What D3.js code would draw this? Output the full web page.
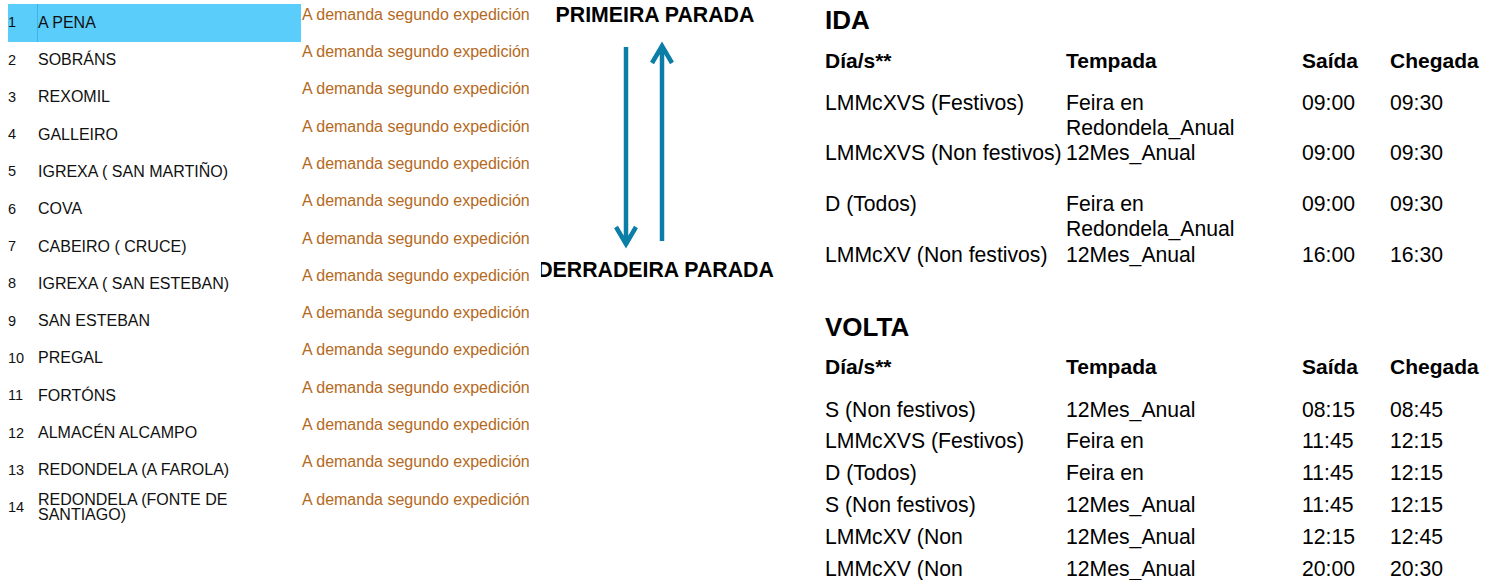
<!DOCTYPE html>
<html>
<head>
<meta charset="utf-8">
<script src="https://cdn.jsdelivr.net/npm/d3@7/dist/d3.min.js"></script>
<style>
  html, body { margin: 0; padding: 0; background: #fff; }
  svg { display: block; font-family: "Liberation Sans", Arial, sans-serif; }
</style>
</head>
<body>
<svg id="chart" width="1498" height="580"></svg>
<script>
// ---------- DATA ----------
const stops = ["A PENA", "SOBRÁNS", "REXOMIL", "GALLEIRO", "IGREXA ( SAN MARTIÑO)", "COVA",
  "CABEIRO ( CRUCE)", "IGREXA ( SAN ESTEBAN)", "SAN ESTEBAN", "PREGAL", "FORTÓNS",
  "ALMACÉN ALCAMPO", "REDONDELA (A FAROLA)", "REDONDELA (FONTE DE SANTIAGO)"];
const stopTimes = stops.map(() => "A demanda segundo expedición");
const firstStopLabel = "PRIMEIRA PARADA";
const lastStopLabel = "DERRADEIRA PARADA";

const tableHeaders = ["Día/s**", "Tempada", "Saída", "Chegada"];

const idaTitle = "IDA";
const idaDias = ["LMMcXVS (Festivos)", "LMMcXVS (Non festivos)", "D (Todos)", "LMMcXV (Non festivos)"];
const idaTempada = [["Feira en", "Redondela_Anual"], ["12Mes_Anual"], ["Feira en", "Redondela_Anual"], ["12Mes_Anual"]];
const idaSaida = ["09:00", "09:00", "09:00", "16:00"];
const idaChegada = ["09:30", "09:30", "09:30", "16:30"];

const voltaTitle = "VOLTA";
const voltaDias = ["S (Non festivos)", "LMMcXVS (Festivos)", "D (Todos)", "S (Non festivos)", "LMMcXV (Non", "LMMcXV (Non"];
const voltaTempada = [["12Mes_Anual"], ["Feira en"], ["Feira en"], ["12Mes_Anual"], ["12Mes_Anual"], ["12Mes_Anual"]];
const voltaSaida = ["08:15", "11:45", "11:45", "11:45", "12:15", "20:00"];
const voltaChegada = ["08:45", "12:15", "12:15", "12:15", "12:45", "20:30"];

// ---------- DRAW ----------
const svg = d3.select("#chart");

// Stop list
const idx = d3.range(stops.length);
const yStop = d3.scalePoint().domain(idx).range([22, 22 + 13 * 37.3]);
const yTime = d3.scalePoint().domain(idx).range([14, 14 + 13 * 37.3]);

// highlight of first row
svg.append("rect").attr("x", 8).attr("y", 4).attr("width", 293).attr("height", 38)
  .attr("fill", "#5bcdfa");
svg.append("line").attr("x1", 37.5).attr("x2", 37.5).attr("y1", 4).attr("y2", 42)
  .attr("stroke", "#34b6ea").attr("stroke-width", 1);

const rows = svg.append("g").selectAll("g").data(idx).join("g");
rows.append("text")
  .attr("x", 8).attr("y", d => yStop(d)).attr("dy", "0.36em")
  .attr("font-size", 14.5).attr("fill", "#111")
  .text(d => d + 1);

rows.append("text")
  .attr("x", 38).attr("y", d => yStop(d))
  .attr("font-size", 16).attr("fill", "#111")
  .each(function(d) {
    const t = d3.select(this);
    const words = stops[d].split(" ");
    const maxW = 235;
    let lines = [], cur = "";
    const probe = t.append("tspan");
    words.forEach(w => {
      const test = cur ? cur + " " + w : w;
      probe.text(test);
      if (probe.node().getComputedTextLength() > maxW && cur) { lines.push(cur); cur = w; }
      else cur = test;
    });
    lines.push(cur);
    probe.remove();
    const lh = 15;
    const off = -(lines.length - 1) * lh / 2;
    lines.forEach((l, i) => {
      t.append("tspan").attr("x", 38)
        .attr("y", yStop(d) + off + i * lh).attr("dy", "0.36em").text(l);
    });
  });

svg.append("g").selectAll("text").data(idx).join("text")
  .attr("x", 302).attr("y", d => yTime(d)).attr("dy", "0.36em")
  .attr("font-size", 16).attr("fill", "#b4691c")
  .text(d => stopTimes[d]);

// Direction labels and arrows
svg.append("defs").append("clipPath").attr("id", "clipDir")
  .append("rect").attr("x", 541).attr("y", 0).attr("width", 260).attr("height", 300);
const dir = svg.append("g").attr("clip-path", "url(#clipDir)");
dir.append("text").attr("x", 655).attr("y", 14).attr("dy", "0.36em")
  .attr("text-anchor", "middle").attr("font-weight", "bold").attr("font-size", 21.3)
  .attr("fill", "#000").text(firstStopLabel);
dir.append("text").attr("x", 655.5).attr("y", 269).attr("dy", "0.36em")
  .attr("text-anchor", "middle").attr("font-weight", "bold").attr("font-size", 21.3)
  .attr("fill", "#000").text(lastStopLabel);

const yArrow = d3.scaleLinear().domain([0, 1]).range([46, 244]);
const arrowColor = "#0a7ea6";
const aw = 10, ah = 17;
const xDown = 626, xUp = 662;
svg.append("path")
  .attr("d", `M${xDown},${yArrow(0) + 1}V${yArrow(1)}M${xDown - aw},${yArrow(1) - ah}L${xDown},${yArrow(1)}L${xDown + aw},${yArrow(1) - ah}`)
  .attr("fill", "none").attr("stroke", arrowColor).attr("stroke-width", 4.5);
svg.append("path")
  .attr("d", `M${xUp},${yArrow(1) - 3}V${yArrow(0)}M${xUp - aw},${yArrow(0) + ah}L${xUp},${yArrow(0)}L${xUp + aw},${yArrow(0) + ah}`)
  .attr("fill", "none").attr("stroke", arrowColor).attr("stroke-width", 4.5);

// Timetables
const colX = [825, 1066, 1302, 1390];
const bodySize = 21.2;

function drawTable(title, titleY, headerY, rowRange, dias, tempada, saida, chegada) {
  const g = svg.append("g");
  g.append("text").attr("x", colX[0]).attr("y", titleY).attr("dy", "0.36em")
    .attr("font-weight", "bold").attr("font-size", 26).attr("fill", "#000").text(title);
  g.selectAll("text.h").data(tableHeaders).join("text").attr("class", "h")
    .attr("x", (d, i) => colX[i]).attr("y", headerY).attr("dy", "0.36em")
    .attr("font-weight", "bold").attr("font-size", 21).attr("fill", "#000").text(d => d);
  const y = d3.scalePoint().domain(d3.range(dias.length)).range(rowRange);
  const r = g.selectAll("g.r").data(d3.range(dias.length)).join("g").attr("class", "r");
  r.append("text").attr("x", colX[0]).attr("y", d => y(d)).attr("dy", "0.36em")
    .attr("font-size", bodySize).attr("fill", "#000").text(d => dias[d]);
  r.append("text").attr("font-size", bodySize).attr("fill", "#000")
    .each(function(d) {
      const t = d3.select(this);
      tempada[d].forEach((l, i) => {
        t.append("tspan").attr("x", colX[1]).attr("y", y(d) + i * 25).attr("dy", "0.36em").text(l);
      });
    });
  r.append("text").attr("x", colX[2]).attr("y", d => y(d)).attr("dy", "0.36em")
    .attr("font-size", bodySize).attr("fill", "#000").text(d => saida[d]);
  r.append("text").attr("x", colX[3]).attr("y", d => y(d)).attr("dy", "0.36em")
    .attr("font-size", bodySize).attr("fill", "#000").text(d => chegada[d]);
}

drawTable(idaTitle, 20, 60, [102, 254], idaDias, idaTempada, idaSaida, idaChegada);
drawTable(voltaTitle, 327, 366, [409, 568], voltaDias, voltaTempada, voltaSaida, voltaChegada);
</script>
</body>
</html>
